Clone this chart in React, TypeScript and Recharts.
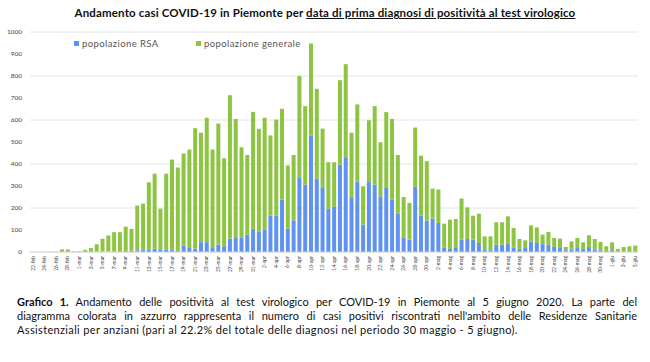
import { BarChart, Bar, XAxis, YAxis, CartesianGrid } from "recharts";

// giorni dal 22-feb al 5-giu (2020)
const months: [string, number, number][] = [
  ["feb", 22, 29],
  ["mar", 1, 31],
  ["apr", 1, 30],
  ["mag", 1, 31],
  ["giu", 1, 5],
];

const dates: string[] = months.flatMap(([m, from, to]) =>
  Array.from({ length: to - from + 1 }, (_, i) => `${from + i}-${m}`)
);

// casi in RSA (blu)
const rsa = [
  0, 0, 0, 0, 0, 0, 0, 0,
  0, 0, 0, 1, 2, 2, 3, 3, 5, 6, 8, 10, 12, 15, 12, 10, 10, 5, 29, 18, 15, 45, 45, 18, 33, 26, 61, 67, 64, 79, 106,
  94, 100, 165, 165, 238, 106, 144, 340, 306, 530, 334, 291, 197, 205, 397, 431, 249, 320, 124, 318, 306, 253, 294, 238, 173, 67, 56, 296, 165, 143,
  152, 132, 21, 14, 21, 56, 59, 56, 41, 10, 8, 33, 33, 36, 21, 14, 18, 48, 41, 36, 33, 23, 18, 8, 10, 18, 14, 23, 10, 8, 5,
  8, 3, 3, 4, 4,
];

// popolazione generale (verde)
const generale = [
  0, 0, 0, 0, 1, 12, 12, 3,
  3, 10, 18, 34, 58, 73, 87, 87, 110, 99, 203, 210, 305, 341, 185, 346, 410, 379, 419, 448, 548, 497, 565, 448, 551, 400, 651, 538, 412, 362, 531,
  466, 510, 365, 437, 413, 287, 297, 460, 357, 418, 408, 270, 211, 203, 384, 423, 293, 351, 175, 281, 357, 246, 342, 367, 268, 183, 167, 270, 273, 270,
  136, 152, 108, 133, 129, 187, 144, 109, 133, 61, 63, 102, 102, 126, 88, 45, 35, 73, 71, 43, 58, 41, 43, 15, 38, 46, 30, 53, 49, 38, 21,
  36, 11, 20, 22, 25,
];

const yTicks = [0, 100, 200, 300, 400, 500, 600, 700, 800, 900, 1000];

const BLUE = "#6092f0";
const GREEN = "#8dc543";
const FONT = "Lato, 'Open Sans', sans-serif";

const data = dates.map((d, i) => ({ date: d, rsa: rsa[i], generale: generale[i] }));

function DateTick(props: any) {
  const { x, y, payload } = props;
  return (
    <g transform={`translate(${x},${y})`}>
      <text
        transform="rotate(-90)"
        textAnchor="end"
        x={0}
        y={0}
        dy={1.8}
        fontSize={5}
        fill="#444"
        fontFamily={FONT}
      >
        {payload.value}
      </text>
    </g>
  );
}

export default function App() {
  return (
    <div
      style={{
        position: "absolute",
        left: 0,
        top: 0,
        width: 650,
        height: 362,
        background: "#fff",
        fontFamily: FONT,
        color: "#111",
      }}
    >
      <BarChart
        width={650}
        height={280}
        data={data}
        margin={{ top: 32, right: 12, left: 0, bottom: 0 }}
        barCategoryGap="18%"
      >
        <CartesianGrid vertical={false} stroke="#e4e4e4" />
        <XAxis
          dataKey="date"
          interval={1}
          tickLine={false}
          tickSize={2}
          tickMargin={2}
          axisLine={{ stroke: "#d6d6d6" }}
          tick={<DateTick />}
          height={28}
        />
        <YAxis
          width={30}
          domain={[0, 1000]}
          ticks={yTicks}
          axisLine={false}
          tickLine={false}
          tick={{ fontSize: 6.5, fill: "#444", fontFamily: FONT }}
        />
        <Bar dataKey="rsa" stackId="a" fill={BLUE} isAnimationActive={false} />
        <Bar dataKey="generale" stackId="a" fill={GREEN} isAnimationActive={false} />
      </BarChart>

      <div
        style={{
          position: "absolute",
          top: 6,
          left: 0,
          width: 650,
          textAlign: "center",
          fontSize: 11.5,
          letterSpacing: 0.15,
          fontWeight: 700,
        }}
      >
        Andamento casi COVID-19 in Piemonte per{" "}
        <span style={{ textDecoration: "underline" }}>
          data di prima diagnosi di positività al test virologico
        </span>
      </div>

      <div
        style={{
          position: "absolute",
          top: 38,
          left: 74,
          display: "flex",
          fontSize: 9.5,
          letterSpacing: 0.4,
          color: "#555",
          whiteSpace: "nowrap",
        }}
      >
        <span style={{ display: "flex", alignItems: "center", width: 122 }}>
          <span style={{ width: 5, height: 5, background: BLUE, marginRight: 3 }} />
          popolazione RSA
        </span>
        <span style={{ display: "flex", alignItems: "center" }}>
          <span style={{ width: 5, height: 5, background: GREEN, marginRight: 3 }} />
          popolazione generale
        </span>
      </div>

      <div
        style={{
          position: "absolute",
          top: 295,
          left: 17,
          width: 620,
          fontSize: 11,
          letterSpacing: 0.35,
          lineHeight: "14px",
          whiteSpace: "nowrap",
        }}
      >
        <div style={{ textAlignLast: "justify", textAlign: "justify", letterSpacing: 0 }}>
          <b>Grafico 1.</b> Andamento delle positività al test virologico per COVID-19 in Piemonte al 5 giugno 2020. La parte del
        </div>
        <div style={{ textAlignLast: "justify", textAlign: "justify", letterSpacing: 0 }}>
          diagramma colorata in azzurro rappresenta il numero di casi positivi riscontrati nell'ambito delle Residenze Sanitarie
        </div>
        <div>
          Assistenziali per anziani (pari al 22.2% del totale delle diagnosi nel periodo 30 maggio - 5 giugno).
        </div>
      </div>
    </div>
  );
}
